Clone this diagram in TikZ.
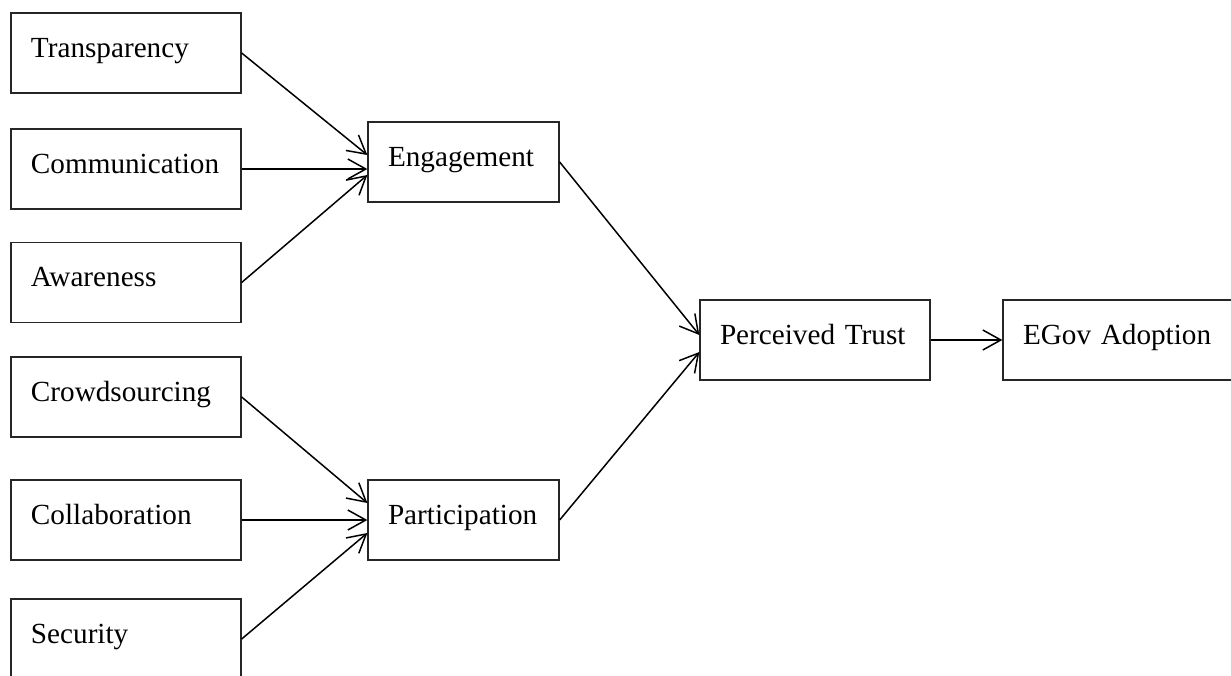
\documentclass[tikz,border=0pt]{standalone}
\usepackage{fontspec}
\setmainfont{Liberation Serif}
\usetikzlibrary{arrows.meta,positioning,calc}

\begin{document}
\begin{tikzpicture}[
    x=0.5pt, y=-0.5pt,
    box/.style={draw=black!85, line width=0.65pt, minimum height=40pt, inner xsep=10pt, inner ysep=0pt,
        text width=95pt, align=left, text height=0.7em, text depth=0.3em, font=\fontsize{14.6pt}{17pt}\selectfont},
    mid/.style={box, text width=75.5pt},
    arr/.style={-{Straight Barb[length=9pt,width=10pt]}, line width=0.75pt}
]
\useasboundingbox (0,0) rectangle (1231,675);
\node[box] (trans) at (126,53) {Transparency};
\node[box] (comm) at (126,169) {Communication};
\node[box] (aware) at (126,282.5) {Awareness};
\node[box] (crowd) at (126,397) {Crowdsourcing};
\node[box] (collab) at (126,520) {Collaboration};
\node[box] (secur) at (126,639) {Security};
\node[mid] (eng) at (463.5,162) {Engagement};
\node[mid] (part) at (463.5,520) {Participation};
\node[box] (trust) at (815,340) {Perceived Trust};
\node[box] (egov) at (1118,340) {EGov Adoption};

\draw[arr] (trans.east) -- ($(eng.west)+(0,-7)$);
\draw[arr] (comm.east) -- (eng.west |- comm.east);
\draw[arr] (aware.east) -- ($(eng.west)+(0,13)$);
\draw[arr] (crowd.east) -- ($(part.west)+(0,-17)$);
\draw[arr] (collab.east) -- (part.west);
\draw[arr] (secur.east) -- ($(part.west)+(0,13)$);
\draw[arr] (eng.east) -- ($(trust.west)+(0,-5)$);
\draw[arr] (part.east) -- ($(trust.west)+(0,12)$);
\draw[arr] (trust.east) -- (egov.west);
\end{tikzpicture}
\end{document}
